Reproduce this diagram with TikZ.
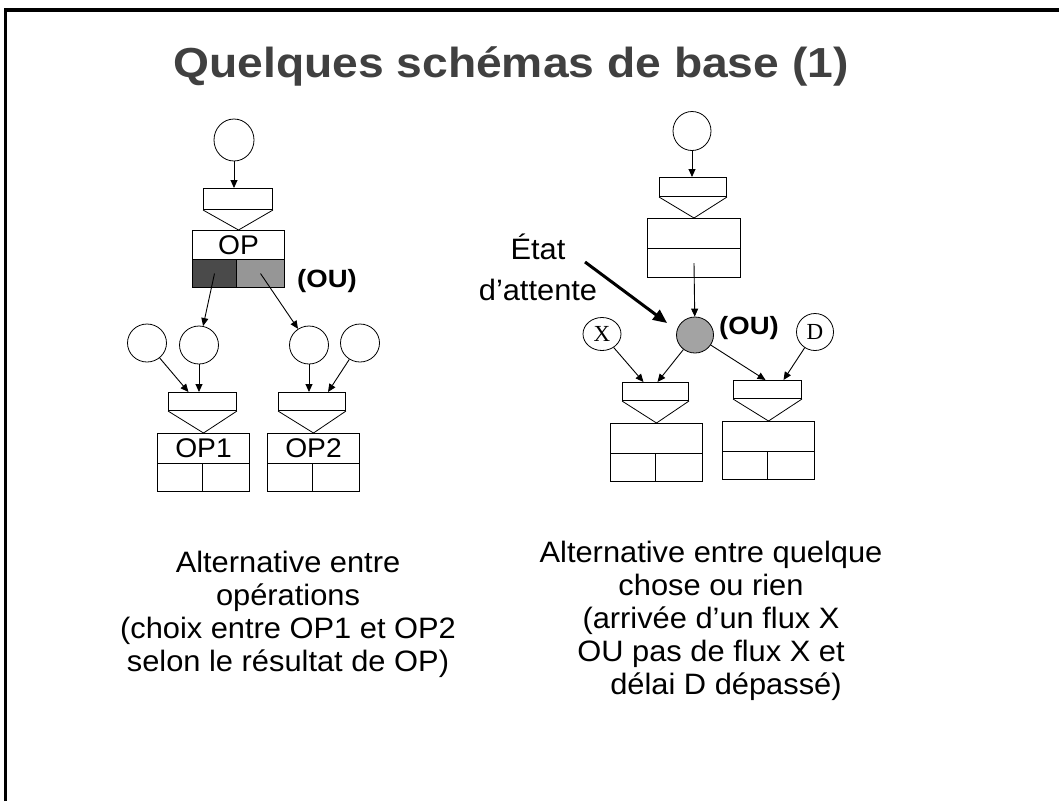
\documentclass[tikz,border=0pt]{standalone}
\usepackage{fontspec}
\setmainfont{Liberation Sans}[FakeStretch=1.1]
\newfontfamily\bodyfont{Liberation Sans}[FakeStretch=1.045]
\newfontfamily\placefont{Liberation Serif}
\usetikzlibrary{shapes.geometric,arrows.meta,calc}
\definecolor{titlegrey}{HTML}{404040}
\definecolor{darkcell}{HTML}{4A4A4A}
\definecolor{lightcell}{HTML}{969696}
\definecolor{waitgrey}{HTML}{A3A3A3}
\begin{document}
\begin{tikzpicture}[x=1pt,y=-1pt,
  place/.style={draw, ellipse, line width=0.8pt, inner sep=0pt,
    minimum width=39pt, minimum height=38pt},
  funnel/.style={draw, rectangle, line width=1pt, inner sep=0pt, anchor=north west},
  cell/.style={draw, rectangle, line width=1pt, inner sep=0pt, anchor=north west},
  cone/.style={line width=0.8pt},
  arr/.style={-{Triangle[length=8pt,width=7pt]}, line width=0.9pt},
  bigarr/.style={-{Triangle[length=14pt,width=12pt]}, line width=3pt},
  lbl/.style={font=\bodyfont\fontsize{27}{30}\selectfont},
  ou/.style={font=\bfseries\fontsize{25}{30}\selectfont},
  body/.style={align=center, font=\bodyfont\fontsize{29.5}{33}\selectfont},
  pname/.style={font=\placefont\fontsize{23}{26}\selectfont}]

\useasboundingbox (0,0) rectangle (1059,801);
\fill[white] (0,0) rectangle (1059,801);

% slide frame (top and left edges)
\draw[line width=3.3pt] (5.7,801) -- (5.7,10) -- (1059,10);

% title
\node[anchor=base, text=titlegrey, font=\bfseries\fontsize{42}{50}\selectfont]
  (title) at (511,77) {Quelques schémas de base (1)};

% ---------- left schema: alternative between operations ----------
\node[place, minimum width=40pt, minimum height=42pt] (c0) at (234,140) {};
\node[funnel, minimum width=69pt, minimum height=21pt] (t0) at (203,188) {};
\node[cell, lbl, minimum width=92pt, minimum height=29pt] (op) at (192,230) {OP};
\node[cell, fill=darkcell, minimum width=44pt, minimum height=28pt] (dk) at (192,259) {};
\node[cell, fill=lightcell, minimum width=48pt, minimum height=28pt] (lt) at (236,259) {};
\draw[cone] (t0.south west) -- (op.north) -- (t0.south east);
\draw[arr] (c0) -- (c0 |- t0.north);
\node[ou] (ouL) at (327,281) {(OU)};

\node[place] (c1) at (147,343) {};
\node[place] (c2) at (199,345) {};
\node[place] (c3) at (309,345) {};
\node[place] (c4) at (360,343) {};
\draw[arr] (dk.center) -- (c2);
\draw[arr] (lt.center) -- (c3);

\node[funnel, minimum width=68pt, minimum height=18pt] (t1) at (168,392) {};
\node[cell, lbl, minimum width=92pt, minimum height=30pt] (op1) at (157,433) {OP1};
\node[cell, minimum width=45pt, minimum height=28pt] (op1a) at (157,463) {};
\node[cell, minimum width=47pt, minimum height=28pt] (op1b) at (202,463) {};
\draw[cone] (t1.south west) -- (op1.north) -- (t1.south east);

\node[funnel, minimum width=67pt, minimum height=18pt] (t2) at (278,392) {};
\node[cell, lbl, minimum width=92pt, minimum height=30pt] (op2) at (267,433) {OP2};
\node[cell, minimum width=45pt, minimum height=28pt] (op2a) at (267,463) {};
\node[cell, minimum width=47pt, minimum height=28pt] (op2b) at (312,463) {};
\draw[cone] (t2.south west) -- (op2.north) -- (t2.south east);

\draw[arr] (c1) -- ($(t1.north)+(-14,0)$);
\draw[arr] (c2) -- (c2 |- t1.north);
\draw[arr] (c3) -- (c3 |- t2.north);
\draw[arr] (c4) -- ($(t2.north)+(16,0)$);

\node[body] (txtL) at (288,614) {Alternative entre\\opérations\\(choix entre OP1 et OP2\\selon le résultat de OP)};

% ---------- right schema: something or nothing ----------
\node[place, minimum width=38pt, minimum height=39pt] (r0) at (692,131) {};
\node[funnel, minimum width=67pt, minimum height=19pt] (t3) at (659,177) {};
\node[cell, minimum width=93pt, minimum height=30pt] (b3) at (647,218) {};
\node[cell, minimum width=93pt, minimum height=29pt] (b3l) at (647,248) {};
\draw[cone] (t3.south west) -- (b3.north) -- (t3.south east);
\draw[arr] (r0) -- (r0 |- t3.north);

\node[place, fill=waitgrey, minimum width=37pt, minimum height=36pt] (w) at (695,335) {};
\draw[arr] (b3l.center) -- (w);
\node[ou] (ouR) at (749,328) {(OU)};
\node[place, pname, minimum width=38pt, minimum height=33pt] (px) at (602,334) {X};
\node[place, pname, minimum width=37pt, minimum height=37pt] (pd) at (815,332) {D};

\node[funnel, minimum width=66pt, minimum height=18pt] (t4) at (622,382) {};
\node[cell, minimum width=92pt, minimum height=30pt] (b4) at (610,423) {};
\node[cell, minimum width=45pt, minimum height=28pt] (b4a) at (610,453) {};
\node[cell, minimum width=47pt, minimum height=28pt] (b4b) at (655,453) {};
\draw[cone] (t4.south west) -- (b4.north) -- (t4.south east);

\node[funnel, minimum width=68pt, minimum height=18pt] (t5) at (733,380) {};
\node[cell, minimum width=92pt, minimum height=30pt] (b5) at (722,421) {};
\node[cell, minimum width=45pt, minimum height=28pt] (b5a) at (722,451) {};
\node[cell, minimum width=47pt, minimum height=28pt] (b5b) at (767,451) {};
\draw[cone] (t5.south west) -- (b5.north) -- (t5.south east);

\draw[arr] (px) -- ($(t4.north)+(-12,0)$);
\draw[arr] (w) -- ($(t4.north)+(2,0)$);
\draw[arr] (w) -- ($(t5.north)+(-2,0)$);
\draw[arr] (pd) -- ($(t5.north)+(16,0)$);

\node[align=center, font=\bodyfont\fontsize{29.5}{41}\selectfont] (etat) at (538,267) {État\\d’attente};
\coordinate (etatTail) at (585,262);
\draw[bigarr] (etatTail) -- ($(w.west)+(-9,-12)$);

\node[body] (txtR) at (711,621) {Alternative entre quelque\\chose ou rien\\(arrivée d’un flux X\\OU pas de flux X et\\\hspace*{30pt}délai D dépassé)};
\end{tikzpicture}
\end{document}
